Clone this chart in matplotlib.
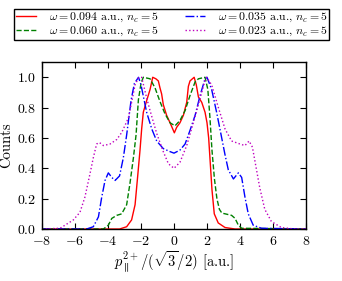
import matplotlib
matplotlib.use('Agg')
import matplotlib.pyplot as plt

plt.rcParams['font.family'] = 'cmr10'
plt.rcParams['mathtext.fontset'] = 'cm'
plt.rcParams['axes.formatter.use_mathtext'] = True
plt.rcParams['axes.unicode_minus'] = True

# omega = 0.094
x_r = [-8, -3.3, -2.87, -2.57, -2.36, -2.2, -2.06, -1.96, -1.86, -1.66, -1.45, -1.29, -1.1, -0.95,
       -0.85, -0.75, -0.65, -0.45, -0.24, -0.08, 0.02, 0.16, 0.36, 0.57, 0.77, 0.87, 0.97, 1.22,
       1.35, 1.48, 1.68, 1.88, 2.0, 2.1, 2.2, 2.3, 2.44, 2.68, 3.09, 3.7, 8]
y_r = [0, 0, 0.015, 0.06, 0.16, 0.35, 0.52, 0.66, 0.77, 0.845, 0.92, 1.0, 0.99, 0.976,
       0.93, 0.89, 0.82, 0.75, 0.70, 0.66, 0.634, 0.67, 0.70, 0.75, 0.835, 0.94, 0.976, 1.0,
       0.95, 0.87, 0.835, 0.77, 0.70, 0.60, 0.43, 0.26, 0.10, 0.04, 0.01, 0, 0]

# omega = 0.060
x_g = [-8, -4.28, -3.98, -3.77, -3.47, -3.17, -2.87, -2.67, -2.46, -2.3, -2.16, -2.0, -1.86,
       -1.45, -1.15, -0.85, -0.55, -0.24, 0.06, 0.36, 0.67, 0.97, 1.28, 1.48, 1.88, 2.05, 2.18,
       2.3, 2.45, 2.6, 2.75, 2.9, 3.1, 3.49, 3.7, 3.9, 4.1, 8]
y_g = [0, 0, 0.025, 0.07, 0.09, 0.10, 0.16, 0.30, 0.47, 0.62, 0.85, 0.96, 1.0,
       0.99, 0.93, 0.84, 0.76, 0.70, 0.68, 0.715, 0.78, 0.88, 0.97, 0.99, 1.0, 0.92, 0.73,
       0.52, 0.33, 0.2, 0.13, 0.105, 0.1, 0.09, 0.07, 0.025, 0.005, 0]

# omega = 0.035
x_b = [-8, -5.3, -4.89, -4.58, -4.38, -4.18, -3.98, -3.77, -3.57, -3.3, -3.07, -2.87, -2.6,
       -2.4, -2.15, -2.0, -1.66, -1.35, -1.05, -0.65, -0.24, 0.0, 0.36, 0.67, 0.97, 1.28, 1.58,
       1.88, 2.0, 2.28, 2.58, 2.8, 3.09, 3.29, 3.6, 3.9, 4.1, 4.3, 4.5, 4.8, 5.3, 8]
y_b = [0, 0, 0.015, 0.08, 0.21, 0.32, 0.37, 0.34, 0.32, 0.35, 0.47, 0.62, 0.85,
       0.96, 1.0, 0.95, 0.77, 0.66, 0.58, 0.53, 0.51, 0.50, 0.52, 0.56, 0.65, 0.75, 0.88,
       0.99, 1.0, 0.92, 0.77, 0.65, 0.49, 0.39, 0.33, 0.37, 0.34, 0.21, 0.10, 0.025, 0.005, 0]

# omega = 0.023
x_m = [-8, -6.9, -6.1, -5.7, -5.4, -5.1, -4.89, -4.69, -4.52, -4.28, -3.88, -3.47, -3.17,
       -2.77, -2.56, -2.36, -2.16, -1.96, -1.65, -1.45, -1.05, -0.65, -0.34, 0.0, 0.36, 0.77,
       1.17, 1.58, 1.88, 1.98, 2.28, 2.69, 3.09, 3.49, 4.0, 4.3, 4.55, 4.75, 4.9, 5.2, 5.5,
       5.9, 6.5, 7.3, 8]
y_m = [0, 0.005, 0.06, 0.11, 0.21, 0.36, 0.47, 0.56, 0.57, 0.55, 0.56, 0.59, 0.636,
       0.73, 0.84, 0.95, 0.995, 1.0, 0.86, 0.78, 0.63, 0.51, 0.43, 0.40, 0.44, 0.55,
       0.70, 0.86, 0.98, 1.0, 0.95, 0.80, 0.66, 0.58, 0.56, 0.55, 0.58, 0.54, 0.45, 0.27, 0.13,
       0.05, 0.01, 0, 0]

labels = [r'$\omega = 0.094$ a.u., $n_c = 5$',
          r'$\omega = 0.060$ a.u., $n_c = 5$',
          r'$\omega = 0.035$ a.u., $n_c = 5$',
          r'$\omega = 0.023$ a.u., $n_c = 5$']

fig = plt.figure(figsize=(3.42, 2.81), dpi=100)
ax = fig.add_axes([0.1228, 0.185, 0.772, 0.594])

ax.plot(x_r, y_r, '-', color='red', lw=1.0, label=labels[0])
ax.plot(x_g, y_g, '--', color='green', lw=1.0, label=labels[1])
ax.plot(x_b, y_b, '-.', color='blue', lw=1.0, label=labels[2])
ax.plot(x_m, y_m, ':', color='m', lw=1.0, label=labels[3])

ax.set_xlim(-8, 8)
ax.set_ylim(0, 1.1)
ax.set_xticks(range(-8, 9, 2))
ax.set_yticks([0, 0.2, 0.4, 0.6, 0.8, 1.0])
ax.tick_params(direction='in', top=True, right=True, labelsize=10, length=4, width=0.8, pad=4)
for s in ax.spines.values():
    s.set_linewidth(1.0)
ax.set_xlabel(r'$p_{\parallel}^{2+}/(\sqrt{3}/2)$ [a.u.]', fontsize=10.5, labelpad=2)
ax.set_ylabel('Counts', fontsize=10.5, labelpad=3)

h, l = ax.get_legend_handles_labels()
leg = fig.legend(h, l, ncol=2, loc='upper center', bbox_to_anchor=(0.502, 0.99),
                 fontsize=8.5, fancybox=False, framealpha=1, edgecolor='black',
                 handlelength=1.7, handletextpad=1.1, columnspacing=2.2,
                 borderpad=0.15, labelspacing=0.1)
leg.get_frame().set_linewidth(1.0)

fig.savefig('out.png', dpi=100)
